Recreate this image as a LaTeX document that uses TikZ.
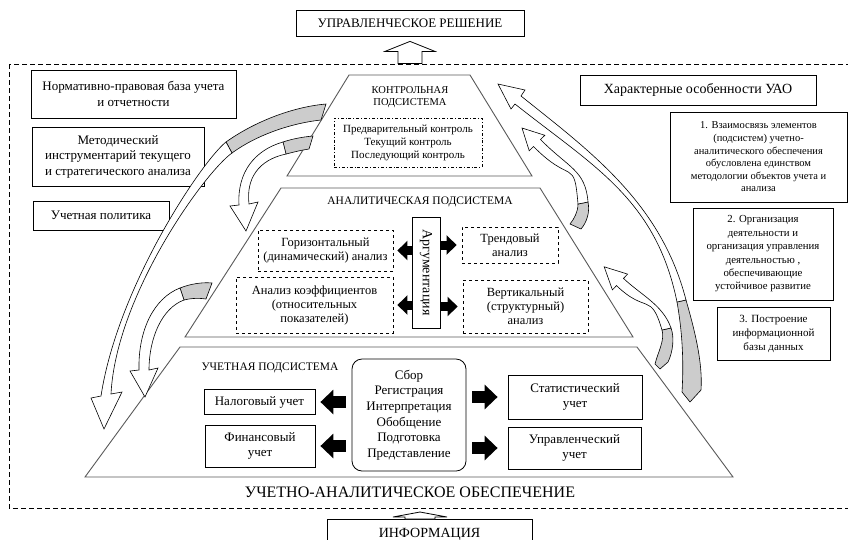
\documentclass[tikz,border=0pt]{standalone}
\usepackage{fontspec}
\setmainfont{Liberation Serif}
\usetikzlibrary{arrows.meta,calc}
\newcommand{\sizeText}[2]{\fontsize{#1}{#2}\selectfont}
\begin{document}
\begin{tikzpicture}[x=1pt, y=-1pt,
    boxStyle/.style={rectangle, draw, line width=0.8pt, inner sep=1pt, align=center, font=\sizeText{13}{15.5}},
    smallStyle/.style={boxStyle, font=\sizeText{10.5}{12.6}},
    dashStyle/.style={boxStyle, dashed, font=\sizeText{12.5}{14}},
    titleStyle/.style={inner sep=0pt, align=center, font=\sizeText{11.5}{12.5}},
    tierStyle/.style={draw=black!65, line width=0.9pt, fill=white},
    ribbonStyle/.style={draw, line width=0.6pt, fill=white},
    shadeStyle/.style={draw, line width=0.6pt, fill=black!20},
    hollowStyle/.style={draw, line width=0.8pt, fill=white},
    blkBig/.style={line width=12pt, -{Triangle[length=13pt, width=24pt]}},
    blkSmall/.style={line width=9pt, -{Triangle[length=10pt, width=19pt]}}]
    \useasboundingbox (0,0) rectangle (848,539);
    \clip (0,0) rectangle (848,539);
    \draw[line width=0.8pt, dash pattern=on 5pt off 3pt] (9,64) rectangle (870,508);

    \draw[tierStyle] (180,347) -- (637,347) -- (733,477) -- (85,477) -- cycle;
    \draw[tierStyle] (281,188) -- (540,188) -- (633,337) -- (185,337) -- cycle;
    \draw[tierStyle] (349,75) -- (470,75) -- (532,176) -- (287,176) -- cycle;

    \node[boxStyle, minimum width=228pt, minimum height=26pt] (top_dec) at (410,23) {УПРАВЛЕНЧЕСКОЕ РЕШЕНИЕ};
    \node[boxStyle, minimum width=205pt, minimum height=48pt] (left_0) at (133.5,94) {Нормативно-правовая база учета\\и отчетности};
    \node[boxStyle, minimum width=172pt, minimum height=59pt] (left_1) at (118,156.5) {Методический\\инструментарий текущего\\и стратегического анализа};
    \node[boxStyle, minimum width=136pt, minimum height=29pt] (left_2) at (101,215.5) {Учетная политика};
    \node[boxStyle, minimum width=236pt, minimum height=30pt, font=\sizeText{14}{16}] (right_0) at (698,90) {Характерные особенности УАО};
    \node[smallStyle, minimum width=177pt, minimum height=90pt] (right_1) at (758.5,157) {1. Взаимосвязь элементов\\(подсистем) учетно-\\аналитического обеспечения\\обусловлена единством\\методологии объектов учета и\\анализа};
    \node[smallStyle, minimum width=140pt, minimum height=92pt, font=\sizeText{10.8}{13.4}] (right_2) at (763,254) {2. Организация\\деятельности и\\организация управления\\деятельностью ,\\обеспечивающие\\устойчивое развитие};
    \node[smallStyle, minimum width=113pt, minimum height=53pt, font=\sizeText{11}{14}] (right_3) at (773.5,333.5) {3. Построение\\информационной\\базы данных};

    \node[titleStyle, font=\sizeText{10.5}{12.5}] (ctrl_title) at (410,97) {КОНТРОЛЬНАЯ\\ПОДСИСТЕМА};
    \node[boxStyle, dash dot, minimum width=148pt, minimum height=49pt, font=\sizeText{11}{13}] (ctrl_box) at (408,142.5) {Предварительный контроль\\Текущий контроль\\Последующий контроль};

    \node[titleStyle] (an_title) at (420,202) {АНАЛИТИЧЕСКАЯ ПОДСИСТЕМА};
    \node[dashStyle, minimum width=135pt, minimum height=41pt] (an_0) at (325.5,250.5) {Горизонтальный\\(динамический) анализ};
    \node[dashStyle, minimum width=157pt, minimum height=56pt] (an_1) at (314.5,305) {Анализ коэффициентов\\(относительных\\показателей)};
    \node[boxStyle, minimum width=28pt, minimum height=111pt, font=\sizeText{14}{15}] (an_arg) at (426,272.5) {\rotatebox{-90}{Аргументация}};
    \node[dashStyle, minimum width=96pt, minimum height=36pt] (an_2) at (510,245) {Трендовый\\анализ};
    \node[dashStyle, minimum width=125pt, minimum height=53pt] (an_3) at (525.5,306.5) {Вертикальный\\(структурный)\\анализ};

    \node[titleStyle] (acc_title) at (270,368) {УЧЕТНАЯ ПОДСИСТЕМА};
    \node[boxStyle, rounded corners=10pt, minimum width=114pt, minimum height=112pt, font=\sizeText{13}{15.6}] (acc_c) at (409,415) {Сбор\\Регистрация\\Интерпретация\\Обобщение\\Подготовка\\Представление};
    \node[boxStyle, minimum width=111pt, minimum height=25pt] (acc_0) at (259.5,402) {Налоговый учет};
    \node[boxStyle, minimum width=110pt, minimum height=42pt] (acc_1) at (260,446) {Финансовый\\учет};
    \node[boxStyle, minimum width=134pt, minimum height=44pt] (acc_2) at (575,397) {Статистический\\учет};
    \node[boxStyle, minimum width=133pt, minimum height=42pt] (acc_3) at (574.5,448) {Управленческий\\учет};

    \node[titleStyle, font=\sizeText{16}{17}] (base_title) at (410,492) {УЧЕТНО-АНАЛИТИЧЕСКОЕ ОБЕСПЕЧЕНИЕ};
    \node[boxStyle, anchor=north, minimum width=205pt, minimum height=30pt, font=\sizeText{14}{16}] (info) at (429.5,519) {ИНФОРМАЦИЯ};

    \draw[blkBig] ($(acc_c.west |- acc_0)+(-6,0)$) -- ($(acc_0.east)+(5,0)$);
    \draw[blkBig] ($(acc_c.west |- acc_1)+(-6,0)$) -- ($(acc_1.east)+(5,0)$);
    \draw[blkBig] ($(acc_c.east |- acc_2)+(6,0)$) -- ($(acc_2.west)+(-10,0)$);
    \draw[blkBig] ($(acc_c.east |- acc_3)+(6,0)$) -- ($(acc_3.west)+(-10,0)$);
    \draw[blkSmall] (an_arg.west |- an_0) -- ($(an_0.east)+(4,0)$);
    \draw[blkSmall] (an_arg.west |- an_1) -- ($(an_1.east)+(4,0)$);
    \draw[blkSmall] (an_arg.east |- an_2) -- ($(an_2.west)+(-5,0)$);
    \draw[blkSmall] (an_arg.east |- an_3) -- ($(an_3.west)+(-5,0)$);

    \draw[hollowStyle] ($(top_dec.south)+(0,5)$) -- ++(25,10) -- ++(-13,0) -- ++(0,12) -- ++(-24,0) -- ++(0,-12) -- ++(-13,0) -- cycle;
    \draw[hollowStyle] ($(info.north)+(-9.5,-7)$) -- ++(27,5) -- ++(-12,0) -- ++(0,2) -- ++(-30,0) -- ++(0,-2) -- ++(-12,0) -- cycle;

    \draw[shadeStyle] (326,104) .. controls (292,107) and (254,122) .. (226,142) -- (232,153) .. controls (258,134) and (293,123) .. (321,120) -- cycle;
    \draw[ribbonStyle] (226,142) .. controls (203,160) and (118,285) .. (101,396) -- (91,398) -- (104,429) -- (122,392) -- (111,394) .. controls (116,295) and (205,172) .. (232,153) -- cycle;
    \draw[shadeStyle] (313,136) .. controls (302,137) and (292,139) .. (283,142) -- (286,154) .. controls (294,152) and (302,150) .. (309,149) -- cycle;
    \draw[ribbonStyle] (283,142) .. controls (255,150) and (237,172) .. (239,205) -- (230,206) -- (246,231) -- (258,202) -- (249,204) .. controls (246,179) and (258,160) .. (286,154) -- cycle;
    \draw[shadeStyle] (212,283) .. controls (202,282) and (190,284) .. (180,288) -- (184,300) .. controls (192,298) and (200,298) .. (206,299) -- cycle;
    \draw[ribbonStyle] (180,288) .. controls (154,298) and (138,330) .. (139,370) -- (130,371) -- (145,397) -- (158,368) -- (149,370) .. controls (149,338) and (162,308) .. (184,300) -- cycle;

    \draw[shadeStyle] (686,300) .. controls (694,328) and (703,362) .. (701,390) -- (690,402) -- (682,392) .. controls (684,360) and (682,330) .. (677,302) -- cycle;
    \draw[ribbonStyle] (686,300) .. controls (661,203) and (591,152) .. (521,96) -- (525,90) -- (498,84) -- (511,109) -- (515,104) .. controls (593,166) and (656,199) .. (677,302) -- cycle;
    \draw[shadeStyle] (588,202) .. controls (590,212) and (587,222) .. (581,229) -- (570,224) .. controls (574,219) and (578,212) .. (578,204) -- cycle;
    \draw[ribbonStyle] (588,202) .. controls (585.5,170) and (568.5,168) .. (540.5,139.5) -- (544.8,135.3) -- (522,128) -- (529.2,150.7) -- (533.5,146.5) .. controls (572,185.6) and (574,157) .. (578,204) -- cycle;
    \draw[shadeStyle] (671,328) .. controls (674.5,337) and (673,352) .. (668,362) -- (660,369) -- (655,364) .. controls (658,352) and (665,340) .. (662,330) -- cycle;
    \draw[ribbonStyle] (671,328) .. controls (663,305) and (641,295) .. (623.5,278.4) -- (627.6,274.1) -- (604.2,266.8) -- (612.4,289.9) -- (616.5,285.6) .. controls (646.7,314.6) and (650.8,291.6) .. (662,330) -- cycle;
\end{tikzpicture}
\end{document}
